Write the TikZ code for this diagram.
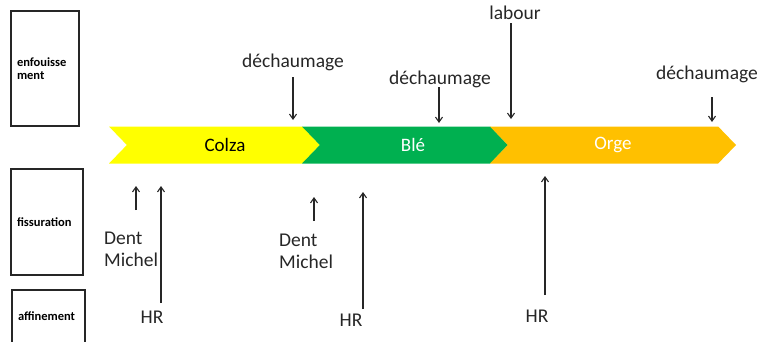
\documentclass[tikz,border=0pt]{standalone}
\usepackage{fontspec}
\setmainfont{Carlito}
\usetikzlibrary{shapes.symbols,arrows.meta}
\definecolor{colzayellow}{HTML}{FFFF00}
\definecolor{blegreen}{HTML}{00B050}
\definecolor{orgeorange}{HTML}{FFC000}
\tikzset{sidebox/.style={draw=black!85,line width=1.2pt,inner xsep=6pt,
                         align=left,font=\fontsize{12.5}{13.5}\selectfont\bfseries},
         crop/.style={signal,signal from=west,signal to=east,
                      signal pointer angle=92,draw=none,
                      minimum height=37pt,inner sep=0pt},
         croptext/.style={font=\fontsize{19}{22}\selectfont,inner sep=0pt},
         tag/.style={font=\fontsize{19.5}{22}\selectfont,inner sep=0pt,
                     text=black!85},
         arr/.style={line width=1.1pt,draw=black!85,
                     -{Straight Barb[length=5pt,width=7pt]}}}

\begin{document}
\begin{tikzpicture}[x=1pt,y=-1pt]
    \clip (0,0) rectangle (762,341);
    % side boxes
    \node (enf) at (45,68.5) [sidebox,text width=56pt,minimum height=115pt]
          {enfouisse\\ment};
    \node (fis) at (47,222) [sidebox,text width=60pt,minimum height=106pt]
          {fissuration};
    \node (aff) at (48.5,320) [sidebox,text width=61pt,minimum height=60pt,
                               text depth=8pt]
          {affinement};

    % crops
    \node (colza) at (214.5,145) [crop,fill=colzayellow,minimum width=211pt]{};
    \node (ble)   at (405,145)   [crop,fill=blegreen,minimum width=206pt]{};
    \node (orge)  at (613,145)   [crop,fill=orgeorange,minimum width=246pt]{};
    \node (colzat) at (225,145) [croptext,text=black]{Colza};
    \node (blet)   at (413,145) [croptext,text=white]{Blé};
    \node (orget)  at (613,145) [croptext,text=white]{Orge};

    % work above
    \node (dech1) at (293,62)  [tag]{déchaumage};
    \node (dech2) at (440,79)  [tag]{déchaumage};
    \node (lab)   at (515,13)  [tag]{labour};
    \node (dech3) at (707,74)  [tag]{déchaumage};
    \coordinate (d1a) at (293,77);  \coordinate (d1b) at (293,120);
    \coordinate (d2a) at (439,87);  \coordinate (d2b) at (439,123);
    \coordinate (la)  at (511,23);  \coordinate (lb)  at (511,119);
    \coordinate (d3a) at (712,97);  \coordinate (d3b) at (712,122);
    \draw[arr] (d1a) -- (d1b);
    \draw[arr] (d2a) -- (d2b);
    \draw[arr] (la) -- (lb);
    \draw[arr] (d3a) -- (d3b);

    % work below
    \node (dm1) at (104,249) [tag,anchor=west,align=left]{Dent\\Michel};
    \node (dm2) at (279,251) [tag,anchor=west,align=left]{Dent\\Michel};
    \node (hr1) at (152,317) [tag]{HR};
    \node (hr2) at (351,320) [tag]{HR};
    \node (hr3) at (537,316) [tag]{HR};
    \coordinate (m1a) at (136,210); \coordinate (m1b) at (136,186);
    \coordinate (m2a) at (314,221); \coordinate (m2b) at (314,197);
    \coordinate (h1a) at (161,303); \coordinate (h1b) at (161,186);
    \coordinate (h2a) at (363,309); \coordinate (h2b) at (363,192);
    \coordinate (h3a) at (545,295); \coordinate (h3b) at (545,176);
    \draw[arr] (m1a) -- (m1b);
    \draw[arr] (m2a) -- (m2b);
    \draw[arr] (h1a) -- (h1b);
    \draw[arr] (h2a) -- (h2b);
    \draw[arr] (h3a) -- (h3b);
\end{tikzpicture}
\end{document}
